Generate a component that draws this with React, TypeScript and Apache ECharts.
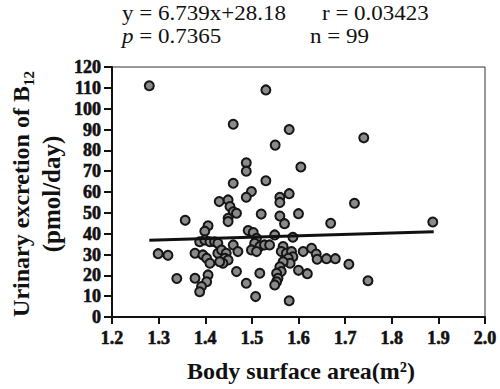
import React, { useEffect, useRef } from "react";
import * as echarts from "echarts";

const bsa = [
  1.28, 1.53, 1.46, 1.58, 1.74, 1.55, 1.605, 1.488, 1.488, 1.46,
  1.53, 1.499, 1.488, 1.58, 1.56, 1.56, 1.43, 1.449, 1.453, 1.46,
  1.467, 1.449, 1.72, 1.6, 1.52, 1.56, 1.57, 1.669, 1.888, 1.357,
  1.449, 1.406, 1.399, 1.492, 1.503, 1.549, 1.588, 1.51, 1.388, 1.399,
  1.41, 1.42, 1.427, 1.378, 1.395, 1.403, 1.41, 1.427, 1.435, 1.445,
  1.442, 1.449, 1.438, 1.431, 1.46, 1.47, 1.299, 1.32, 1.339, 1.378,
  1.406, 1.403, 1.392, 1.388, 1.467, 1.488, 1.508, 1.517, 1.506, 1.517,
  1.527, 1.538, 1.499, 1.51, 1.567, 1.563, 1.574, 1.585, 1.588, 1.578,
  1.582, 1.567, 1.56, 1.563, 1.553, 1.556, 1.553, 1.549, 1.58, 1.61,
  1.628, 1.638, 1.64, 1.66, 1.679, 1.708, 1.6, 1.619, 1.749,
];
const b12 = [
  111, 109, 92.5, 90, 86, 82.5, 72, 74, 70, 64.2,
  65.4, 60.2, 57.5, 59.2, 57.5, 55, 55.4, 56.2, 53, 50.5,
  49.8, 47.4, 54.6, 49.6, 49.4, 48.5, 44.8, 45, 45.6, 46.4,
  45.8, 43.8, 41.2, 41.5, 40.5, 39.4, 38.3, 37.8, 36.1, 37,
  36.1, 36.1, 35.4, 30.6, 29.8, 28.2, 25.8, 30.6, 32.2, 30.6,
  28.2, 27.4, 25.8, 26.5, 34.6, 31.4, 30.4, 29.6, 18.5, 18.6,
  20.2, 16.9, 14.6, 12.1, 21.8, 16.2, 9.8, 21, 35.4, 33.8,
  34.6, 34.6, 32.2, 31.4, 33.8, 31.4, 30.6, 31.4, 28.9, 28.2,
  25.8, 26.5, 24.1, 21.8, 21, 18.6, 16.9, 15.4, 7.8, 31.4,
  33, 30.2, 27.7, 28, 28, 25.3, 22.4, 20.8, 17.4,
];

const slope = 6.739;
const intercept = 28.18;
const fitRange = [1.28, 1.89];

const statLine1a = "y = 6.739x+28.18";
const statLine1b = "r = 0.03423";
const statLine2a = "p";
const statLine2b = " = 0.7365";
const statLine2c = "n = 99";

const SERIF = "Liberation Serif, Times New Roman, serif";

const tickTextStyle = {
  fontFamily: SERIF,
  fontWeight: "bold",
  fontSize: 18,
  color: "#111",
  textBorderColor: "#111",
  textBorderWidth: 0.6,
};

export default function App() {
  const ref = useRef<HTMLDivElement>(null);
  useEffect(() => {
    if (!ref.current) return;
    const chart = echarts.init(ref.current, null, { renderer: "svg" });
    const points = bsa.map((x, i) => [x, b12[i]]);
    const fit = fitRange.map((x) => [x, slope * x + intercept]);
    const statStyle = (text: string) => ({
      text,
      fill: "#111",
      font: `20px ${SERIF}`,
      align: "left",
      verticalAlign: "middle",
    });
    chart.setOption({
      animation: false,
      backgroundColor: "#ffffff",
      textStyle: { fontFamily: SERIF },
      grid: {
        left: 112,
        right: 15,
        top: 67,
        bottom: 72,
        show: true,
        borderColor: "#333",
        borderWidth: 1,
        backgroundColor: "transparent",
      },
      xAxis: {
        type: "value",
        min: 1.2,
        max: 2.0,
        interval: 0.1,
        splitLine: { show: false },
        axisLine: { show: true, onZero: false, lineStyle: { color: "#111", width: 2 } },
        axisTick: { show: true, inside: false, length: 7, lineStyle: { color: "#111", width: 2 } },
        axisLabel: {
          formatter: (v: number) => `{t|${v.toFixed(1)}}`,
          ...tickTextStyle,
          margin: 12,
          rich: { t: { ...tickTextStyle } },
        },
      },
      yAxis: {
        type: "value",
        min: 0,
        max: 120,
        interval: 10,
        splitLine: { show: false },
        axisLine: { show: true, onZero: false, lineStyle: { color: "#111", width: 2 } },
        axisTick: { show: true, inside: false, length: 8, lineStyle: { color: "#111", width: 2 } },
        axisLabel: {
          formatter: (v: number) => `{t|${v}}`,
          ...tickTextStyle,
          margin: 11,
          rich: { t: { ...tickTextStyle } },
        },
      },
      series: [
        {
          type: "scatter",
          data: points,
          symbol: "circle",
          symbolSize: 9,
          itemStyle: { color: "#8a8a8a", borderColor: "#151515", borderWidth: 2, opacity: 1 },
          z: 3,
        },
        {
          type: "line",
          data: fit,
          symbol: "none",
          lineStyle: { color: "#111", width: 3 },
          z: 4,
        },
      ],
      graphic: [
        { type: "text", x: 122, y: 14, scaleX: 1.15, style: statStyle(statLine1a) },
        { type: "text", x: 322, y: 14, scaleX: 1.15, style: statStyle(statLine1b) },
        {
          type: "text",
          x: 122,
          y: 37,
          scaleX: 1.15,
          style: {
            text: `{i|${statLine2a}}{n|${statLine2b}}`,
            fill: "#111",
            align: "left",
            verticalAlign: "middle",
            rich: {
              i: { font: `italic 20px ${SERIF}`, fill: "#111" },
              n: { font: `20px ${SERIF}`, fill: "#111" },
            },
          },
        },
        { type: "text", x: 310, y: 37, scaleX: 1.15, style: statStyle(statLine2c) },
        {
          type: "text",
          x: 36,
          y: 194,
          rotation: Math.PI / 2,
          style: {
            text: "{a|Urinary excretion of B}{s|12}\n{b|(pmol/day)}",
            fill: "#111",
            align: "center",
            verticalAlign: "middle",
            rich: {
              a: {
                font: `bold 24px ${SERIF}`,
                fill: "#111",
                lineHeight: 30,
                verticalAlign: "middle",
              },
              b: {
                font: `bold 25px ${SERIF}`,
                fill: "#111",
                lineHeight: 30,
                verticalAlign: "middle",
              },
              s: {
                font: `bold 15px ${SERIF}`,
                fill: "#111",
                lineHeight: 30,
                verticalAlign: "bottom",
              },
            },
          },
        },
        {
          type: "text",
          x: 301,
          y: 371,
          style: {
            text: "Body surface area(m²)",
            fill: "#111",
            font: `bold 24px ${SERIF}`,
            align: "center",
            verticalAlign: "middle",
          },
        },
      ],
    });
    return () => chart.dispose();
  }, []);
  return (
    <div
      ref={ref}
      style={{ position: "absolute", left: 0, top: 0, width: 500, height: 389 }}
    />
  );
}
